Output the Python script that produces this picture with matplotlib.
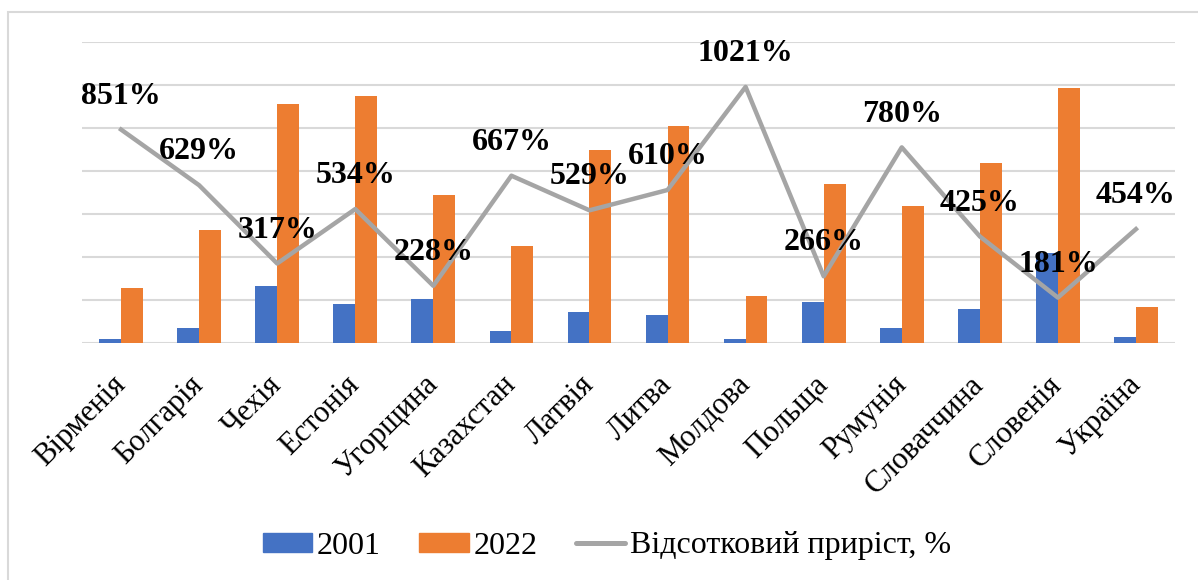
import matplotlib
matplotlib.use("Agg")
import matplotlib.pyplot as plt
from matplotlib.patches import Rectangle
from matplotlib.lines import Line2D
import numpy as np

plt.rcParams['font.family'] = ['Liberation Serif', 'DejaVu Serif']

countries = ["Вірменія", "Болгарія", "Чехія", "Естонія", "Угорщина", "Казахстан",
             "Латвія", "Литва", "Молдова", "Польща", "Румунія", "Словаччина",
             "Словенія", "Україна"]
v2001 = [0.5, 1.75, 6.65, 4.55, 5.1, 1.45, 3.6, 3.3, 0.5, 4.8, 1.75, 3.9, 10.5, 0.72]
v2022 = [6.4, 13.15, 27.8, 28.7, 17.2, 11.3, 22.45, 25.25, 5.45, 18.5, 15.95, 20.95, 29.65, 4.2]
growth = [851, 629, 317, 534, 228, 667, 529, 610, 1021, 266, 780, 425, 181, 454]
legend_labels = ["2001", "2022", "Відсотковий приріст, %"]

W, H = 1198, 580
fig = plt.figure(figsize=(W / 100, H / 100), dpi=100)

# outer chart border
fig.patches.append(Rectangle((8 / W, -0.1), 1.2, (H - 12) / H + 0.1,
                             transform=fig.transFigure, fill=False,
                             edgecolor="#D9D9D9", linewidth=1.5))

ax = fig.add_axes([82 / W, (H - 343) / H, (1175 - 82) / W, (343 - 42) / H])
x = np.arange(len(countries))
bw = 0.28
ax.bar(x - bw / 2, v2001, width=bw, color="#4472C4", zorder=2)
ax.bar(x + bw / 2, v2022, width=bw, color="#ED7D31", zorder=2)
ax.set_ylim(0, 35)
ax.set_yticks(np.arange(0, 36, 5))
ax.set_xlim(-0.5, len(countries) - 0.5)
ax.yaxis.grid(True, color="#D9D9D9", linewidth=1.5, zorder=0)
ax.set_axisbelow(True)
for s in ax.spines.values():
    s.set_visible(False)
ax.tick_params(axis='y', left=False, right=False, labelleft=False, length=0)
ax.tick_params(axis='x', bottom=False, length=0, pad=27)
ax.set_xticks(x)
ax.set_xticklabels(countries, rotation=45, ha='right', va='center',
                   rotation_mode='anchor', fontsize=22)

ax2 = ax.twinx()
ax2.plot(x, growth, color="#A5A5A5", linewidth=3.2, zorder=3)
ax2.set_ylim(0, 1200)
ax2.set_xlim(-0.5, len(countries) - 0.5)
for s in ax2.spines.values():
    s.set_visible(False)
ax2.tick_params(axis='y', left=False, right=False, labelright=False, length=0)
for xi, g in zip(x, growth):
    ax2.annotate(f"{g}%", (xi, g), xytext=(0, 24), textcoords='offset points',
                 ha='center', va='center', fontsize=23, fontweight='bold',
                 color='black', zorder=4)

handles = [Rectangle((0, 0), 1, 1, color="#4472C4"),
           Rectangle((0, 0), 1, 1, color="#ED7D31"),
           Line2D([0], [0], color="#A5A5A5", linewidth=3.6, solid_capstyle='round')]
fig.legend(handles, legend_labels, loc='center', bbox_to_anchor=(607 / W, (H - 546) / H),
           ncol=3, frameon=False, fontsize=23, handlelength=1.55, handleheight=0.55,
           handletextpad=0.15, columnspacing=1.2)

fig.savefig("out.png", dpi=100)
